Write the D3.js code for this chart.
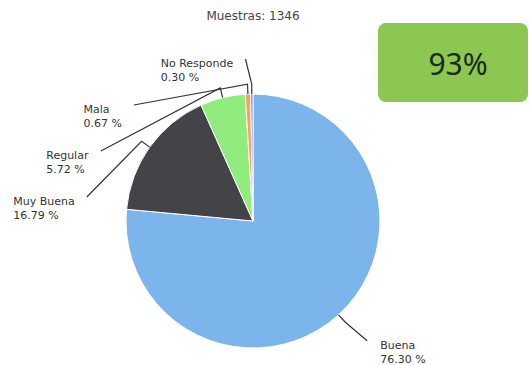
<!DOCTYPE html>
<html>
<head>
<meta charset="utf-8">
<script src="https://cdn.jsdelivr.net/npm/d3@7"></script>
<style>
  body { margin: 0; background: #fff; }
  text { font-family: "DejaVu Sans", Verdana, sans-serif; }
</style>
</head>
<body>
<div class="chart"></div>
<script>
// data
const categories = ["Buena", "Muy Buena", "Regular", "Mala", "No Responde"];
const values = [76.30, 16.79, 5.72, 0.67, 0.30];
const colors = ["#7cb5ec", "#434348", "#90ed7d", "#f7a35c", "#8085e9"];
const title = "Muestras: 1346";
const badgeText = "93%";

const svgWidth = 529;
const svgHeight = 365;
const cx = 253, cy = 221, radius = 127;
const labelRadius = 162;
const labelGap = 46;

const svg = d3.select(".chart")
  .append("svg")
  .attr("width", svgWidth)
  .attr("height", svgHeight);

// title
svg.append("text")
  .attr("x", cx)
  .attr("y", 20)
  .attr("text-anchor", "middle")
  .attr("fill", "#444")
  .style("font-size", "12px")
  .text(title);

// green badge
svg.append("rect")
  .attr("x", 378)
  .attr("y", 23)
  .attr("width", 150)
  .attr("height", 79)
  .attr("rx", 8)
  .attr("fill", "#8cc751");
svg.append("text")
  .attr("x", 458)
  .attr("y", 75)
  .attr("text-anchor", "middle")
  .attr("fill", "#1c2a1c")
  .style("font-family", "'Noto Sans', sans-serif")
  .style("font-size", "30px")
  .text(badgeText);

const data = categories.map((c, i) => ({ name: c, value: values[i], color: colors[i] }));

const pie = d3.pie().sort(null).value(d => d.value);
const arcs = pie(data);
const arc = d3.arc().innerRadius(0).outerRadius(radius);

const g = svg.append("g").attr("transform", "translate(" + cx + "," + cy + ")");

g.selectAll("path.slice")
  .data(arcs)
  .join("path")
  .attr("class", "slice")
  .attr("d", arc)
  .attr("fill", d => d.data.color)
  .attr("stroke", "#fff")
  .attr("stroke-width", 1);

// label positions, Highcharts-ish: natural y on a bigger circle, pushed apart
arcs.forEach(d => {
  d.mid = (d.startAngle + d.endAngle) / 2;
  d.left = Math.sin(d.mid) < 0;
  d.ly = -labelRadius * Math.cos(d.mid);
});
const leftLabels = arcs.filter(d => d.left).sort((a, b) => a.ly - b.ly);
for (let i = 1; i < leftLabels.length; i++) {
  if (leftLabels[i].ly < leftLabels[i - 1].ly + labelGap) {
    leftLabels[i].ly = leftLabels[i - 1].ly + labelGap;
  }
}
arcs.forEach(d => {
  const dy = d.ly;
  const dx = Math.sqrt(Math.max(0, labelRadius * labelRadius - dy * dy));
  d.lx = d.left ? -dx - 6 : dx + 5;
});

// connectors
g.selectAll("path.connector")
  .data(arcs)
  .join("path")
  .attr("class", "connector")
  .attr("fill", "none")
  .attr("stroke", "#333")
  .attr("stroke-width", 1.2)
  .attr("d", d => {
    const ex = Math.sin(d.mid), ey = -Math.cos(d.mid);
    return "M" + d.lx + "," + d.ly +
      "L" + ex * (radius + 10) + "," + ey * (radius + 10) +
      "L" + ex * radius + "," + ey * radius;
  });

// labels
const labels = g.selectAll("g.label")
  .data(arcs)
  .join("g")
  .attr("class", "label");

labels.each(function(d) {
  const lg = d3.select(this);
  const t = lg.append("text")
    .attr("fill", "#333")
    .style("font-size", "11px");
  t.append("tspan").attr("x", 0).attr("y", 8).text(d.data.name);
  t.append("tspan").attr("x", 0).attr("y", 22).text(d.data.value.toFixed(2) + " %");
  const w = t.node().getBBox().width;
  const x = d.left ? d.lx - 12 - w : d.lx + 13;
  lg.attr("transform", "translate(" + x + "," + d.ly + ")");
});
</script>
</body>
</html>
